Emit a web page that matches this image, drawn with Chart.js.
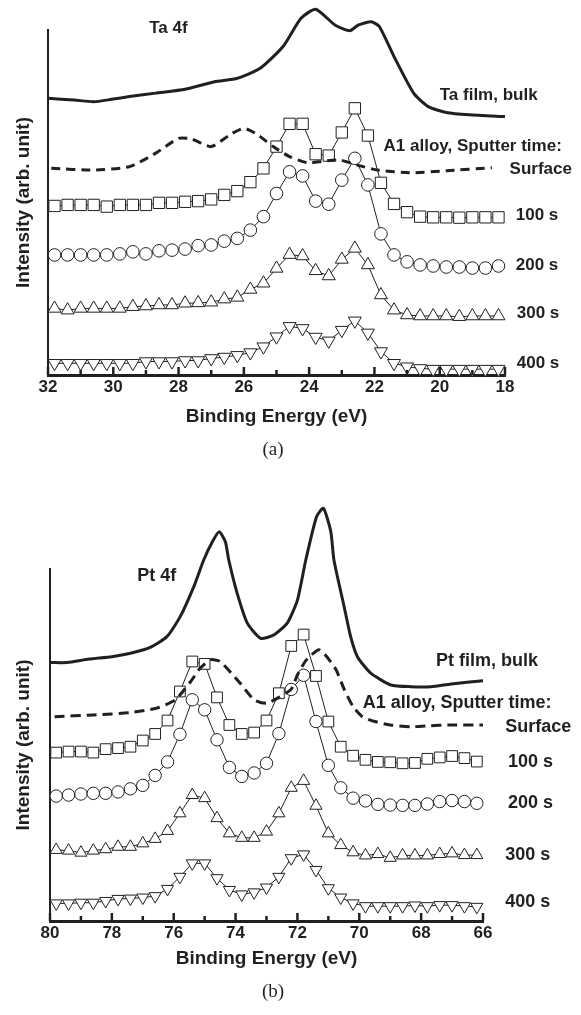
<!DOCTYPE html>
<html>
<head>
<meta charset="utf-8">
<style>
  html, body { margin: 0; padding: 0; background: #fff; }
  body { width: 581px; height: 1015px; position: relative; overflow: hidden; }
  canvas { position: absolute; left: 0; }
  #chartA { top: 0; }
  #chartB { top: 480px; }
  .cap { position: absolute; font: 19px "Liberation Serif", "Times New Roman", serif; color: #231f20;
         transform: translate(-50%, -50%); white-space: nowrap; }
</style>
<script src="https://cdn.jsdelivr.net/npm/chart.js@4/dist/chart.umd.min.js"></script>
</head>
<body>
<canvas id="chartA" width="581" height="480"></canvas>
<canvas id="chartB" width="581" height="535"></canvas>
<div class="cap" style="left:273px; top:449px;">(a)</div>
<div class="cap" style="left:273px; top:991px;">(b)</div>

<script>
// ---- Ta 4f data (binding energy in eV, intensity in arb. units, offset per trace) ----
const taEnergy = [31.8, 31.4, 31.0, 30.6, 30.2, 29.8, 29.4, 29.0, 28.6, 28.2, 27.8, 27.4, 27.0, 26.6, 26.2,
                  25.8, 25.4, 25.0, 24.6, 24.2, 23.8, 23.4, 23.0, 22.6, 22.2, 21.8, 21.4, 21.0, 20.6, 20.2,
                  19.8, 19.4, 19.0, 18.6, 18.2];
const ta100 = [49.0, 49.3, 49.3, 49.3, 48.8, 49.3, 49.3, 49.3, 49.9, 49.9, 50.2, 50.4, 50.9, 52.2, 53.3,
               55.9, 59.9, 66.2, 72.8, 72.8, 64.0, 63.6, 70.3, 77.3, 69.4, 55.7, 49.6, 47.2, 45.9, 45.7,
               45.7, 45.6, 45.7, 45.7, 45.7];
const ta200 = [34.8, 34.8, 34.8, 34.8, 34.8, 35.1, 35.7, 35.1, 36.0, 36.2, 36.5, 37.5, 37.7, 38.8, 39.6,
               42.0, 45.9, 52.6, 58.9, 57.7, 50.4, 49.5, 56.5, 62.8, 55.1, 40.9, 34.8, 32.8, 31.9, 31.6,
               31.3, 31.3, 31.0, 31.0, 31.6];
const ta300 = [19.3, 18.8, 19.3, 19.3, 19.3, 19.3, 19.8, 20.0, 20.3, 20.3, 20.8, 20.9, 21.1, 22.0, 22.5,
               24.8, 26.6, 30.9, 34.9, 34.5, 30.2, 28.7, 33.5, 36.7, 31.9, 23.2, 18.8, 17.4, 17.1, 17.1,
               17.1, 16.9, 17.1, 17.1, 17.1];
const ta400 = [3.4, 3.4, 3.4, 3.4, 3.4, 3.4, 3.4, 3.9, 3.9, 3.9, 4.2, 4.2, 4.8, 5.2, 5.7,
               6.5, 8.2, 11.1, 14.1, 13.5, 11.0, 9.9, 13.0, 15.7, 12.2, 6.8, 3.4, 2.4, 1.9, 1.7,
               1.7, 1.7, 1.7, 1.7, 1.7];
const taBulkE = [32.0, 31.2, 30.6, 30.05, 29.5, 28.7, 27.8, 26.9, 26.2, 25.5, 24.8, 24.25, 23.8, 23.2,
                 22.75, 22.5, 22.1, 21.85, 21.4, 20.8, 20.35, 19.8, 19.1, 18.0];
const taBulkI = [80.2, 79.7, 79.2, 79.9, 80.7, 81.7, 82.8, 85.0, 86.0, 88.9, 95.2, 103.4, 106.0, 101.4,
                 99.8, 101.4, 102.4, 101.0, 92.3, 81.7, 77.8, 76.1, 75.4, 74.9];
const taSurfE = [31.9, 30.6, 29.5, 28.7, 28.0, 27.6, 27.0, 26.4, 26.0, 25.6, 25.1, 24.6, 24.05, 23.55,
                 23.05, 22.55, 21.9, 20.9, 19.8, 18.4];
const taSurfI = [59.9, 59.4, 60.4, 64.3, 68.6, 68.4, 66.2, 69.8, 71.5, 69.8, 66.2, 63.3, 61.5, 62.0,
                 62.3, 60.9, 59.4, 58.6, 59.2, 60.1];

// ---- Pt 4f data ----
const ptEnergy = [79.8, 79.4, 79.0, 78.6, 78.2, 77.8, 77.4, 77.0, 76.6, 76.2, 75.8, 75.4, 75.0, 74.6, 74.2,
                  73.8, 73.4, 73.0, 72.6, 72.2, 71.8, 71.4, 71.0, 70.6, 70.2, 69.8, 69.4, 69.0, 68.6, 68.2,
                  67.8, 67.4, 67.0, 66.6, 66.2];
const pt100 = [48.8, 49.1, 49.1, 48.8, 49.8, 50.1, 50.5, 52.3, 54.2, 58.1, 66.5, 75.2, 74.5, 64.8, 56.8,
               54.2, 54.6, 58.1, 66.0, 79.7, 83.0, 71.0, 57.8, 50.5, 47.9, 46.7, 46.1, 46.0, 45.7, 45.8,
               47.0, 47.4, 47.8, 47.2, 46.2];
const pt200 = [36.2, 36.5, 36.8, 37.0, 37.0, 37.4, 38.3, 39.3, 42.2, 46.1, 54.1, 64.1, 61.2, 52.5, 44.5,
               41.9, 42.9, 45.7, 54.3, 67.1, 71.2, 57.8, 45.1, 38.6, 35.6, 34.8, 33.8, 33.6, 33.5, 33.5,
               33.9, 34.6, 34.9, 34.6, 34.1];
const pt300 = [20.6, 20.4, 19.8, 20.4, 20.8, 21.5, 21.5, 22.5, 23.8, 26.1, 31.2, 36.5, 35.6, 29.8, 25.4,
               24.1, 24.1, 25.9, 31.2, 38.6, 40.6, 33.4, 25.4, 22.0, 19.9, 19.0, 19.4, 18.3, 19.0, 19.0,
               19.0, 19.4, 19.6, 19.1, 19.1];
const pt400 = [5.1, 5.1, 5.3, 5.3, 5.8, 6.4, 6.5, 6.8, 7.2, 9.3, 12.8, 16.7, 16.7, 12.4, 9.0,
               7.7, 8.3, 9.7, 12.8, 18.2, 19.3, 14.8, 9.5, 6.8, 5.1, 4.3, 4.3, 4.3, 4.3, 4.5,
               4.3, 4.6, 4.6, 4.3, 4.1];
const ptBulkE = [80.0, 79.45, 78.74, 78.0, 77.4, 76.76, 76.22, 75.79, 75.35, 75.03, 74.75, 74.53, 74.33,
                 74.22, 73.95, 73.62, 73.19, 72.76, 72.33, 72.0, 71.73, 71.38, 71.16, 70.92, 70.82, 70.49,
                 70.28, 70.06, 69.63, 68.98, 68.33, 67.68, 67.03, 66.0];
const ptBulkI = [74.9, 74.9, 75.9, 76.6, 77.6, 79.3, 82.4, 88.2, 96.9, 104.6, 109.9, 112.8, 109.9,
                 104.6, 95.0, 86.3, 81.9, 82.9, 86.3, 93.0, 104.6, 117.2, 119.6, 112.8, 104.6, 91.1,
                 82.4, 76.6, 71.8, 68.4, 67.9, 67.9, 68.7, 69.6];
const ptSurfE = [79.85, 78.6, 77.4, 76.55, 75.95, 75.45, 75.15, 74.8, 74.5, 73.85, 73.4, 73.0, 72.6, 72.2,
                 72.0, 71.75, 71.55, 71.3, 71.05, 70.75, 70.5, 70.2, 69.9, 69.5, 69.0, 68.3, 67.7, 67.15, 66.0];
const ptSurfI = [59.2, 59.7, 60.4, 61.7, 64.1, 69.4, 73.2, 75.7, 75.2, 68.9, 64.1, 63.1, 64.8, 67.2,
                 71.3, 75.2, 77.1, 78.6, 76.6, 72.8, 67.4, 62.1, 59.2, 57.8, 56.8, 56.3, 56.6, 56.8, 56.8];

const INK = '#231f20';
Chart.defaults.font.family = '"Liberation Sans", Arial, Helvetica, sans-serif';
Chart.defaults.color = INK;

const pairs = (xs, ys) => xs.map((x, i) => ({ x, y: ys[i] }));

function curve(xs, ys, dash) {
  return {
    data: pairs(xs, ys), showLine: true, borderColor: INK, borderWidth: 3,
    borderDash: dash || [], pointRadius: 0, tension: 0.2, clip: false
  };
}

function markers(xs, ys, style, r, rot) {
  return {
    data: pairs(xs, ys), showLine: true, borderColor: INK, borderWidth: 1,
    pointStyle: style, pointRadius: r, pointRotation: rot || 0,
    pointBackgroundColor: '#fff', pointBorderColor: INK, pointBorderWidth: 1,
    tension: 0, clip: false
  };
}

// small upward tick marks on the energy axis, every 1 eV, longer on labelled ones
const inwardTicks = {
  id: 'inwardTicks',
  afterDraw(chart) {
    const xs = chart.scales.x;
    const base = chart.chartArea.bottom;
    const ctx = chart.ctx;
    ctx.save();
    ctx.strokeStyle = INK;
    ctx.lineWidth = 2.5;
    for (let e = Math.ceil(xs.min); e <= xs.max; e++) {
      const px = xs.getPixelForValue(e);
      const len = e % 2 === 0 ? 8 : 5;
      ctx.beginPath();
      ctx.moveTo(px, base);
      ctx.lineTo(px, base - len);
      ctx.stroke();
    }
    ctx.restore();
  }
};

// trace names written next to the curves, anchored in data units
const traceTags = {
  id: 'traceTags',
  afterDatasetsDraw(chart, args, opts) {
    const { ctx, scales } = chart;
    ctx.save();
    ctx.fillStyle = INK;
    ctx.font = 'bold ' + opts.size + 'px ' + Chart.defaults.font.family;
    ctx.textAlign = 'left';
    ctx.textBaseline = 'middle';
    opts.items.forEach(t => {
      ctx.fillText(t.text, scales.x.getPixelForValue(t.x), scales.y.getPixelForValue(t.y));
    });
    ctx.restore();
  }
};

function makeChart(id, p) {
  return new Chart(document.getElementById(id), {
    type: 'scatter',
    data: { datasets: p.datasets },
    options: {
      responsive: false,
      animation: false,
      events: [],
      layout: { padding: p.padding },
      plugins: {
        legend: { display: false },
        tooltip: { enabled: false },
        traceTags: { items: p.tags, size: p.tagSize }
      },
      scales: {
        x: {
          type: 'linear', reverse: true, min: p.xMin, max: p.xMax,
          afterFit: s => { s.height = p.xAxisHeight; },
          grid: { display: false, drawTicks: false },
          border: { display: true, color: INK, width: 3 },
          ticks: { stepSize: 2, padding: 2, color: INK, font: { size: 17, weight: 'bold' } },
          title: { display: true, text: 'Binding Energy (eV)', color: INK, padding: 0,
                   font: { size: 19, weight: 'bold' } }
        },
        y: {
          min: 0, max: p.yMax,
          afterFit: s => { s.width = p.yAxisWidth; },
          grid: { display: false, drawTicks: false },
          border: { display: true, color: INK, width: 2 },
          ticks: { display: false },
          title: { display: true, text: 'Intensity (arb. unit)', color: INK,
                   padding: { top: 12.6, bottom: 0 }, font: { size: 19, weight: 'bold' } }
        }
      }
    },
    plugins: [inwardTicks, traceTags]
  });
}

makeChart('chartA', {
  xMin: 18, xMax: 32, yMax: 100,
  padding: { left: 0, right: 76, top: 30, bottom: 52 },
  xAxisHeight: 53, yAxisWidth: 48,
  tagSize: 17,
  datasets: [
    curve(taSurfE, taSurfI, [9, 6]),
    curve(taBulkE, taBulkI),
    markers(taEnergy, ta100, 'rect', 8),
    markers(taEnergy, ta200, 'circle', 6.3),
    markers(taEnergy, ta300, 'triangle', 7.5),
    markers(taEnergy, ta400, 'triangle', 7.5, 180)
  ],
  tags: [
    { text: 'Ta 4f', x: 28.9, y: 100.6 },
    { text: 'Ta film, bulk', x: 20.0, y: 81.2 },
    { text: 'A1 alloy, Sputter time:', x: 21.72, y: 66.4 },
    { text: 'Surface', x: 17.86, y: 59.7 },
    { text: '100 s', x: 17.67, y: 46.4 },
    { text: '200 s', x: 17.67, y: 31.9 },
    { text: '300 s', x: 17.64, y: 18.0 },
    { text: '400 s', x: 17.64, y: 3.5 }
  ]
});

makeChart('chartB', {
  xMin: 66, xMax: 80, yMax: 102,
  padding: { left: 0, right: 98, top: 89, bottom: 45 },
  xAxisHeight: 49, yAxisWidth: 50,
  tagSize: 18,
  datasets: [
    curve(ptSurfE, ptSurfI, [10, 6]),
    curve(ptBulkE, ptBulkI),
    markers(ptEnergy, pt100, 'rect', 7.6),
    markers(ptEnergy, pt200, 'circle', 6.2),
    markers(ptEnergy, pt300, 'triangle', 7),
    markers(ptEnergy, pt400, 'triangle', 7, 180)
  ],
  tags: [
    { text: 'Pt 4f', x: 77.18, y: 100.0 },
    { text: 'Pt film, bulk', x: 67.52, y: 75.2 },
    { text: 'A1 alloy, Sputter time:', x: 69.89, y: 63.2 },
    { text: 'Surface', x: 65.28, y: 56.2 },
    { text: '100 s', x: 65.19, y: 46.2 },
    { text: '200 s', x: 65.19, y: 34.1 },
    { text: '300 s', x: 65.28, y: 19.1 },
    { text: '400 s', x: 65.28, y: 5.6 }
  ]
});
</script>
</body>
</html>
